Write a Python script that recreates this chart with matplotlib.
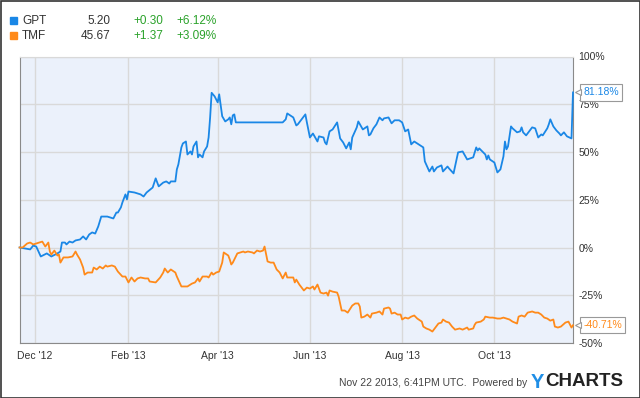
import numpy as np
import matplotlib
matplotlib.use("Agg")
import matplotlib.pyplot as plt
import matplotlib.dates as mdates
from matplotlib.patches import Rectangle

plt.rcParams['font.family'] = ['Liberation Sans', 'DejaVu Sans']

start = np.datetime64('2012-11-21')

# days after start, % change
gpt_days = [0, 7, 9, 11, 14, 18, 21, 25, 27, 28, 30, 31, 33, 35, 37, 40, 42, 44, 46, 48,
            50, 52, 53, 54, 58, 60, 62, 64, 65, 67, 68, 70, 71, 72, 76, 80, 82, 84, 88, 90,
            92, 95, 97, 99, 100, 103, 104, 105, 107, 108, 110, 111, 113, 114, 115, 117, 118, 119, 121, 122,
            124, 125, 126, 127, 129, 131, 132, 134, 136, 138, 139, 140, 141, 142, 143, 174, 176, 177, 181, 183,
            184, 189, 190, 192, 194, 197, 198, 201, 202, 203, 205, 207, 210, 212, 214, 216, 218, 219, 220, 223,
            224, 227, 230, 231, 232, 234, 236, 238, 240, 241, 244, 246, 248, 251, 253, 255, 257, 259, 261, 267,
            268, 271, 273, 274, 276, 279, 280, 283, 284, 287, 290, 293, 296, 300, 302, 303, 304, 308, 309, 310,
            311, 314, 316, 318, 320, 321, 322, 323, 325, 326, 329, 331, 332, 333, 335, 337, 339, 341, 343, 345,
            346, 349, 350, 351, 353, 355, 357, 358, 360, 362, 365, 366]
gpt_pct = [0, -1, 1, 0.5, -4.7, -3.1, -4.7, -3.1, -2.1, 2.6, 2.6, 1.6, 3.1, 2.6, 3.7, 4.2, 5.8, 4.2, 6.8, 7.9,
           7.3, 11, 13.6, 16.2, 16.2, 15.7, 15.2, 18.3, 18.3, 21, 23.6, 27.8, 25.2, 29.3, 28.8, 27.8, 26.7, 28.8, 31.4, 36.2,
           32, 34, 34.6, 33.5, 34.6, 34.6, 40.9, 43.5, 52.4, 54.5, 55.5, 48.7, 50.3, 48.7, 52.9, 55.5, 47.2, 48.7, 47.2, 50.3,
           52.9, 57.6, 68, 81, 79.1, 76, 80.2, 68.7, 66, 67.1, 68.1, 64.5, 69.2, 69.7, 65.5, 65.5, 67.1, 70.2, 68.1, 63.9,
           64.5, 69.7, 65.5, 57.6, 59.7, 55.5, 58.2, 57.6, 55, 54, 60.8, 61.8, 65.5, 57.1, 55, 51.9, 55, 51.4, 57.6, 62.9,
           66, 61.8, 63.4, 58.7, 59.2, 62.4, 64.5, 68.1, 66.6, 67.6, 68.1, 65, 66.6, 66.6, 65.5, 60.8, 61.8, 54, 55.5, 52.4,
           45.1, 39.8, 42.4, 39.8, 41.9, 43, 39.8, 42.4, 41.4, 38.8, 49.8, 50.3, 46.1, 47.2, 52.4, 50.8, 51.9, 48.7, 46.1, 48.2,
           46.1, 44.5, 39.3, 40.9, 47.7, 55.5, 51.4, 52.9, 63.4, 62.4, 60.3, 60.8, 62.9, 60.3, 58.7, 60.8, 62.9, 62.4, 57.6, 59.2,
           58.7, 62.4, 64.5, 67.1, 63.4, 61.3, 59.7, 58.7, 60.3, 58.2, 57.1, 81.18]

tmf_days = [0, 2, 5, 7, 9, 11, 13, 15, 17, 19, 20, 21, 23, 25, 26, 27, 29, 32, 35, 37,
            38, 40, 42, 43, 45, 48, 49, 51, 53, 55, 57, 58, 61, 63, 65, 68, 70, 72, 74, 76,
            78, 80, 83, 85, 86, 90, 93, 95, 96, 98, 100, 103, 104, 107, 111, 114, 116, 118, 119, 121,
            124, 125, 127, 128, 130, 132, 134, 135, 138, 139, 140, 141, 143, 144, 146, 148, 149, 151, 154, 155,
            157, 159, 161, 162, 164, 166, 168, 170, 172, 174, 176, 177, 181, 182, 183, 185, 188, 190, 192, 194,
            195, 197, 199, 201, 203, 204, 205, 207, 210, 211, 213, 215, 217, 220, 222, 224, 225, 226, 228, 230,
            232, 233, 236, 238, 240, 241, 244, 245, 246, 248, 250, 252, 253, 255, 257, 259, 261, 263, 266, 267,
            269, 271, 273, 275, 277, 279, 280, 282, 284, 286, 288, 291, 293, 296, 297, 300, 301, 302, 305, 307,
            308, 311, 313, 316, 318, 320, 322, 324, 326, 329, 330, 332, 334, 336, 339, 341, 343, 345, 347, 349,
            351, 353, 354, 356, 358, 361, 363, 365, 366]
tmf_pct = [0, 0, 2.1, 2.6, 1.6, 2.1, 2.6, 3.1, 0.5, 2.6, -2.1, -3.7, -1.6, -4.2, -3.7, -7.9, -5.2, -5.2, -4.7, -2.1,
           -3.7, -6.3, -10.5, -14.2, -13.1, -13.1, -10.5, -11.5, -10, -11, -9.4, -10, -9.4, -10, -12.6, -15.2, -15.2, -18.3, -15.7, -17.8,
           -16.2, -15.7, -16.2, -16.2, -17.8, -18.3, -15.7, -13.1, -11, -13.1, -11.5, -13.1, -15.2, -20.4, -20.4, -18.9, -18.3, -16.2, -17.8, -15.2,
           -15.2, -15.7, -13.1, -14.2, -13.1, -12.6, -7.9, -2.6, -4.2, -6.3, -8.9, -7.9, -4.7, -3.1, -2.6, -2.1, -2.6, -2.1, -2.6, -3.1,
           -1.6, -2.1, -1.6, 0.5, -7.3, -7.9, -7.9, -11.5, -13.1, -16.2, -13.1, -15.7, -15.7, -18.3, -16.8, -19.4, -22.5, -21, -21.5, -20.4,
           -22, -19.4, -23.6, -24.1, -23.6, -25.2, -22.5, -23.1, -23.6, -25.7, -33, -33, -34.1, -30.4, -29.3, -29.3, -30.9, -36.7, -36.2, -35.1,
           -36.7, -34.6, -34.1, -33.5, -35.1, -32, -31.4, -32, -34.6, -34.1, -35.1, -35.1, -37.7, -36.7, -37.2, -36.2, -35.6, -37.2, -38.8, -41.4,
           -42.4, -43, -44, -41.9, -39.8, -39.3, -37.7, -38.8, -39.3, -41.4, -43, -42.4, -43, -41.9, -43, -42.4, -40.4, -39.3, -38.8, -37.7,
           -36.2, -36.7, -36.7, -37.2, -37.2, -36.7, -37.2, -37.7, -38.8, -39.8, -36.2, -35.6, -36.2, -34.1, -33.5, -34.1, -34.1, -35.1, -36.7, -37.2,
           -38.3, -37.7, -41.4, -41.9, -41.4, -39.3, -38.8, -41.9, -40.71]

tickers = ['GPT', 'TMF']
prices = ['5.20', '45.67']
changes = ['+0.30', '+1.37']
changes_pct = ['+6.12%', '+3.09%']

blue = '#1a87e6'
orange = '#ff8a1a'
green = '#2aa22a'
txt = '#333333'

fig = plt.figure(figsize=(6.4, 3.98), dpi=100)
ax = fig.add_axes([19.6 / 640, 1 - 343 / 398, (573 - 19.6) / 640, (343 - 56.5) / 398])
ax.set_facecolor('#ebf1fb')

gx = start + np.array(gpt_days).astype('timedelta64[D]')
tx = start + np.array(tmf_days).astype('timedelta64[D]')
ax.plot(gx, gpt_pct, color=blue, lw=1.3, zorder=3, clip_on=False)
ax.plot(tx, tmf_pct, color=orange, lw=1.3, zorder=3, clip_on=False)

ax.set_xlim(start, start + np.timedelta64(366, 'D'))
ax.set_ylim(-50, 100)
ax.xaxis.set_major_locator(mdates.MonthLocator(bymonth=[12, 2, 4, 6, 8, 10]))
ax.xaxis.set_major_formatter(mdates.DateFormatter("%b '%y"))
ax.set_yticks(np.arange(-50, 101, 25))
ax.yaxis.set_major_formatter(lambda v, p: f'{v:.0f}%')
ax.yaxis.tick_right()
ax.tick_params(axis='both', length=0, labelsize=7.5, colors=txt)
ax.tick_params(axis='y', pad=4)
ax.tick_params(axis='x', pad=6)
ax.grid(True, color='#d9d9d9', lw=1)
ax.set_axisbelow(True)
for s in ['left', 'bottom', 'right']:
    ax.spines[s].set_color('#8a8a8a')
ax.spines['top'].set_color('#d9d9d9')

# last value callouts
yt = ax.get_yaxis_transform()
for val, col in [(gpt_pct[-1], blue), (tmf_pct[-1], orange)]:
    ax.text(1.019, val, f'{val:.2f}%', transform=yt, color=col, fontsize=7.5,
            va='center', ha='left', zorder=5,
            bbox=dict(boxstyle='square,pad=0.3', fc='white', ec='#999999', lw=0.8))
    ax.plot([1.0095], [val], marker='<', ms=4.5, mfc='white', mec='#999999', mew=0.8,
            transform=yt, clip_on=False, zorder=6)

# header legend
for i, t in enumerate(tickers):
    y = 1 - (21 + 15 * i) / 398
    col = [blue, orange][i]
    fig.patches.append(Rectangle((10 / 640, y - 3.5 / 398), 7 / 640, 7 / 398,
                                 transform=fig.transFigure, color=col))
    fig.text(22 / 640, y, t, fontsize=8.5, color=txt, va='center')
    fig.text(110 / 640, y, prices[i], fontsize=8.5, color=txt, va='center', ha='right')
    fig.text(133 / 640, y, changes[i], fontsize=8.5, color=green, va='center')
    fig.text(176 / 640, y, changes_pct[i], fontsize=8.5, color=green, va='center')

fig.text(527 / 640, 1 - 383 / 398, 'Nov 22 2013, 6:41PM UTC.  Powered by', fontsize=7.5,
         color='#444444', ha='right', va='center')
fig.text(531 / 640, 1 - 382 / 398, 'Y', fontsize=14.5, fontweight='bold', color='#1f8ee6', va='center')
fig.text(545 / 640, 1 - 382 / 398, 'CHARTS', fontsize=13.5, fontweight='bold', color='#222222', va='center')

fig.patches.append(Rectangle((0.5 / 640, 0.5 / 398), 639 / 640, 397 / 398, transform=fig.transFigure,
                             fill=False, ec='#333333', lw=1.2))

fig.savefig('out.png', dpi=100, facecolor='white')
